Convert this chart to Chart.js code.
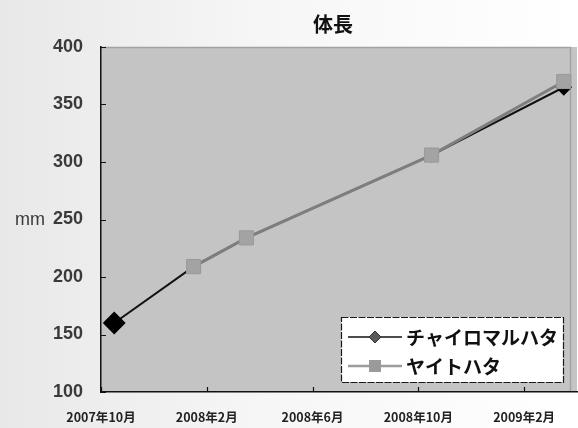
<!DOCTYPE html>
<html lang="ja">
<head>
<meta charset="utf-8">
<title>体長</title>
<script src="https://cdn.jsdelivr.net/npm/chart.js@4.4.1/dist/chart.umd.min.js"></script>
<style>
  html, body { margin: 0; padding: 0; background: #fff; }
  canvas { display: block; }
</style>
</head>
<body>
<canvas id="c" width="578" height="428"></canvas>
<script>
// Body length of two grouper species over the rearing period
const chartTitle = '体長';
const unitLabel = 'mm';
const seriesNames = ['チャイロマルハタ', 'ヤイトハタ'];
// measurement dates, as months elapsed since October 2007
const sampleMonths = [0.5, 3.5, 5.5, 12.5, 17.5];
const chairomaruhataLength = [160, 209, 234, 306, 365];
const yaitohataLength = [null, 209, 234, 306, 370];
// month positions of the date labels on the horizontal axis
const xTickMonths = [0, 4, 8, 12, 16];
const xTickLabels = ['2007年10月', '2008年2月', '2008年6月', '2008年10月', '2009年2月'];
const yMin = 100, yMax = 400, yStep = 50;

const toPoints = (ys) => sampleMonths.map((m, i) => ({ x: m, y: ys[i] }));

const CJK = '"Noto Sans CJK JP", "Noto Sans", sans-serif';
const LATIN = '"Liberation Sans", Arial, sans-serif';

const decor = {
  id: 'decor',
  beforeDraw(chart) {
    const { ctx, chartArea: a, width, height } = chart;
    ctx.save();
    const g = ctx.createLinearGradient(0, 0, width, 0);
    g.addColorStop(0, '#e8e8e8');
    g.addColorStop(0.45, '#f6f6f6');
    g.addColorStop(1, '#ffffff');
    ctx.fillStyle = g;
    ctx.fillRect(0, 0, width, height);
    // plot area
    ctx.fillStyle = '#c4c4c4';
    ctx.fillRect(a.left, a.top, a.right - a.left, a.bottom - a.top);
    ctx.strokeStyle = '#a2a2a2';
    ctx.lineWidth = 1.5;
    ctx.beginPath();
    ctx.moveTo(a.left, a.top + 0.5);
    ctx.lineTo(a.right - 6.5, a.top + 0.5);
    ctx.lineTo(a.right - 6.5, a.bottom);
    ctx.stroke();
    ctx.restore();
  },
  beforeDatasetsDraw(chart) {
    const { ctx, chartArea: a, scales } = chart;
    ctx.save();
    ctx.strokeStyle = '#111';
    ctx.lineWidth = 1.2;
    ctx.beginPath();
    // inward tick marks
    for (let v = yMin; v <= yMax; v += yStep) {
      const y = Math.round(scales.y.getPixelForValue(v)) + 0.5;
      ctx.moveTo(a.left, y);
      ctx.lineTo(a.left + 5, y);
    }
    xTickMonths.forEach((m) => {
      const x = Math.round(scales.x.getPixelForValue(m)) + 0.5;
      ctx.moveTo(x, a.bottom);
      ctx.lineTo(x, a.bottom - 5);
    });
    ctx.stroke();
    ctx.restore();
  },
  afterDraw(chart) {
    const { ctx, chartArea: a, scales } = chart;
    ctx.save();
    // title
    ctx.fillStyle = '#111';
    ctx.font = 'bold 20px ' + CJK;
    ctx.textAlign = 'center';
    ctx.textBaseline = 'middle';
    ctx.fillText(chartTitle, (a.left + a.right) / 2 - 6, 24);
    // unit next to the 250 label
    ctx.font = '18px ' + LATIN;
    ctx.fillStyle = '#3a3a3a';
    ctx.textAlign = 'right';
    ctx.fillText(unitLabel, 45, scales.y.getPixelForValue(250) + 1);

    // legend inside the plot area
    const box = { x: a.right - 236, y: a.bottom - 75, w: 222, h: 65 };
    ctx.fillStyle = '#ffffff';
    ctx.fillRect(box.x, box.y, box.w, box.h);
    ctx.strokeStyle = '#1a1a1a';
    ctx.lineWidth = 1.2;
    ctx.setLineDash([7, 1.5]);
    ctx.strokeRect(box.x + 0.5, box.y + 0.5, box.w, box.h);
    ctx.setLineDash([]);
    const rows = [box.y + 20, box.y + 49];
    chart.data.datasets.forEach((ds, i) => {
      const y = rows[i];
      const x0 = box.x + 7, x1 = box.x + 61, xm = box.x + 34;
      ctx.strokeStyle = i === 0 ? '#111' : '#9c9c9c';
      ctx.lineWidth = i === 0 ? 1.6 : 2.4;
      ctx.beginPath();
      ctx.moveTo(x0, y);
      ctx.lineTo(x1, y);
      ctx.stroke();
      if (i === 0) {
        ctx.fillStyle = '#5a5a5a';
        ctx.strokeStyle = '#333';
        ctx.lineWidth = 1;
        ctx.beginPath();
        ctx.moveTo(xm, y - 6);
        ctx.lineTo(xm + 6, y);
        ctx.lineTo(xm, y + 6);
        ctx.lineTo(xm - 6, y);
        ctx.closePath();
        ctx.fill();
        ctx.stroke();
      } else {
        ctx.fillStyle = '#9a9a9a';
        ctx.fillRect(xm - 6, y - 6, 12, 12);
      }
      ctx.fillStyle = '#111';
      ctx.font = 'bold 19px ' + CJK;
      ctx.textAlign = 'left';
      ctx.textBaseline = 'middle';
      ctx.fillText(ds.label, box.x + 65, y + 1);
    });
    ctx.restore();
  }
};

new Chart(document.getElementById('c'), {
  type: 'line',
  data: {
    datasets: [
      {
        label: seriesNames[0],
        data: toPoints(chairomaruhataLength),
        borderColor: '#111111',
        borderWidth: 2,
        pointStyle: 'rectRot',
        pointRadius: [10, 6, 6, 6, 7],
        pointBackgroundColor: '#000000',
        pointBorderColor: '#000000',
        order: 1
      },
      {
        label: seriesNames[1],
        data: toPoints(yaitohataLength),
        borderColor: '#7e7e7e',
        borderWidth: 3,
        pointStyle: 'rect',
        pointRadius: 10,
        pointBackgroundColor: '#a3a3a3',
        pointBorderColor: '#9a9a9a',
        pointBorderWidth: 1,
        order: 0
      }
    ]
  },
  options: {
    responsive: false,
    animation: false,
    events: [],
    layout: { autoPadding: false, padding: { top: 47, right: 1, left: 0, bottom: 0 } },
    plugins: { legend: { display: false }, title: { display: false }, tooltip: { enabled: false } },
    elements: { line: { tension: 0 } },
    scales: {
      x: {
        type: 'linear',
        min: 0,
        max: 18,
        grid: { display: false, drawTicks: false },
        border: { display: true, color: '#111', width: 1.5 },
        afterBuildTicks(scale) { scale.ticks = xTickMonths.map((v) => ({ value: v })); },
        afterFit(scale) {
          scale.height = 36;
          scale.paddingLeft = 0;
          scale.paddingRight = 0;
        },
        ticks: {
          padding: 18,
          maxRotation: 0,
          autoSkip: false,
          color: '#222',
          font: { family: CJK, size: 12.5, weight: 'bold' },
          callback: (v) => xTickLabels[xTickMonths.indexOf(v)]
        }
      },
      y: {
        min: yMin,
        max: yMax,
        grid: { display: false, drawTicks: false },
        border: { display: true, color: '#111', width: 1.5 },
        afterFit(scale) {
          scale.width = 101;
          scale.paddingTop = 0;
          scale.paddingBottom = 0;
        },
        ticks: {
          stepSize: yStep,
          padding: 18,
          color: '#3a3a3a',
          font: { family: LATIN, size: 18, weight: 'bold' }
        }
      }
    }
  },
  plugins: [decor]
});
</script>
</body>
</html>
